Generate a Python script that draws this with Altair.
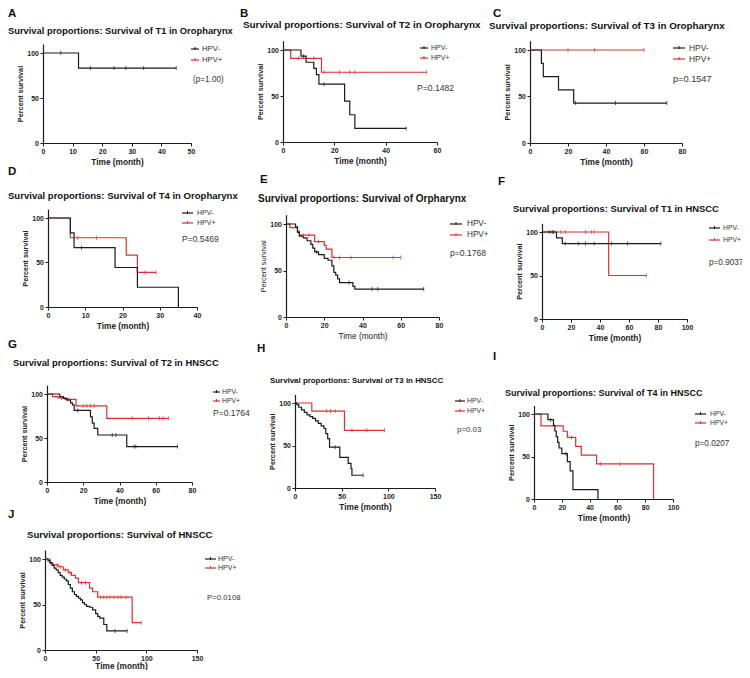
import altair as alt
import pandas as pd

FONT = "Liberation Sans, Arial, Helvetica, sans-serif"
OFF = 8
W, H = 734, 662
BLACK = "#1b1b1b"
RED = "#e0302f"
GREY = "#333333"

# ---------------- data ----------------
A_neg_t = [0, 12, 45]
A_neg_s = [100, 83.3, 83.3]
A_neg_c = [6, 16, 24, 28, 34, 45]
A_pos_t = []
A_pos_s = []
A_pos_c = []

B_neg_t = [0, 7, 9, 12, 13, 14, 24, 26, 28, 48]
B_neg_s = [100, 93.3, 86.7, 80, 73.3, 62.9, 44.4, 29.6, 14.8, 14.8]
B_neg_c = [8, 16, 48]
B_pos_t = [0, 3, 15, 56]
B_pos_s = [100, 90.9, 75.8, 75.8]
B_pos_c = [6, 12, 16, 22, 26, 28, 56]

C_neg_t = [0, 6, 7, 15, 23, 72]
C_neg_s = [100, 85.7, 71.4, 57.1, 42.9, 42.9]
C_neg_c = [24, 45, 72]
C_pos_t = [0, 60]
C_pos_s = [100, 100]
C_pos_c = [20, 34, 60]

D_neg_t = [0, 6, 7, 18, 24, 35]
D_neg_s = [100, 83.3, 66.7, 44.4, 22.2, 0]
D_neg_c = [9]
D_pos_t = [0, 6, 21, 24, 29]
D_pos_s = [100, 77.8, 58.3, 38.9, 38.9]
D_pos_c = [8, 13, 26, 29]

E_neg_t = [0, 5, 6, 7, 9, 11, 13, 14, 15, 17, 20, 22, 24, 25, 26, 27, 28, 35, 36, 72]
E_neg_s = [100, 97, 91, 87, 85, 82, 78, 74, 70, 67, 63, 61, 55, 48, 45, 41, 37, 33, 30, 30]
E_neg_c = [16, 33, 45, 48, 72]
E_pos_t = [0, 2, 6, 7, 15, 20, 21, 24, 60]
E_pos_s = [100, 96, 92, 88, 81, 77, 73, 64, 64]
E_pos_c = [9, 12, 17, 25, 28, 34, 56, 60]

F_neg_t = [0, 10, 14, 82]
F_neg_s = [100, 93.3, 86.7, 86.7]
F_neg_c = [5, 7, 8, 16, 25, 30, 36, 48, 59, 82]
F_pos_t = [0, 46, 72]
F_pos_s = [100, 50, 50]
F_pos_c = [13, 16, 30, 34, 36, 72]

G_neg_t = [0, 7, 9, 11, 13, 14, 15, 24, 25, 26, 28, 44, 72]
G_neg_s = [100, 97, 95, 93, 90, 87.7, 81.3, 74, 67, 61, 53.4, 40.3, 40.3]
G_neg_c = [17, 36, 38, 48, 49, 72]
G_pos_t = [0, 3, 6, 10, 16, 33, 67]
G_pos_s = [100, 97, 95.5, 94, 86.6, 72.4, 72.4]
G_pos_c = [8, 12, 20, 22, 24, 26, 47, 56, 62, 64, 67]

H_neg_t = [0, 2, 4, 7, 10, 13, 16, 19, 22, 25, 28, 31, 33, 35, 37, 48, 57, 60, 61, 73]
H_neg_s = [100, 98, 95, 92, 89, 86, 84, 82, 79, 76, 73, 70, 64, 58, 48, 36, 29, 23, 15, 15]
H_neg_c = [43, 73]
H_pos_t = [0, 18, 53, 96]
H_pos_s = [100, 90.5, 67.9, 67.9]
H_pos_c = [34, 38, 43, 61, 77, 96]

I_neg_t = [0, 10, 14, 15, 16, 17, 18, 20, 24, 26, 28, 46]
I_neg_s = [100, 93.3, 86.7, 80, 73.3, 66.7, 60, 53.3, 44, 33, 11, 0]
I_neg_c = [12, 23]
I_pos_t = [0, 5, 21, 24, 30, 34, 45, 86]
I_pos_s = [100, 86.1, 79.7, 72.4, 61.9, 51.6, 41.3, 0]
I_pos_c = [27, 48, 62]

J_neg_t = [0, 3, 5, 7, 9, 11, 13, 15, 17, 19, 21, 23, 25, 27, 29, 31, 33, 35, 37, 39,
           41, 44, 47, 50, 52, 54, 58, 61, 81]
J_neg_s = [100, 98, 96, 93, 90, 88, 85, 82, 80, 78, 76, 72, 68, 64, 61, 59, 57, 55, 52, 50,
           48, 47, 44, 40, 37, 35, 28, 21, 21]
J_neg_c = [69, 81]
J_pos_t = [0, 5, 8, 13, 18, 23, 26, 30, 33, 44, 47, 52, 86, 95]
J_pos_s = [100, 95, 93.5, 91.5, 88, 85, 82, 79, 74, 68, 64, 58, 30, 30]
J_pos_c = [12, 15, 20, 25, 36, 40, 55, 58, 61, 64, 68, 72, 75, 80, 95]

letters = ["A", "B", "C", "D", "E", "F", "G", "H", "I", "J"]
titles = [
    "Survival proportions: Survival of T1 in Oropharynx",
    "Survival proportions: Survival of T2 in Oropharynx",
    "Survival proportions: Survival of T3 in Oropharynx",
    "Survival proportions: Survival of T4 in Oropharynx",
    "Survival proportions: Survival of Orpharynx",
    "Survival proportions: Survival of T1 in HNSCC",
    "Survival proportions: Survival of T2 in  HNSCC",
    "Survival proportions: Survival of T3 in HNSCC",
    "Survival proportions: Survival of T4 in HNSCC",
    "Survival proportions: Survival of HNSCC",
]
pvalues = ["(p=1.00)", "P=0.1482", "p=0.1547", "P=0.5469", "p=0.1768",
           "p=0.9037", "P=0.1764", "p=0.03", "p=0.0207", "P=0.0108"]
group_labels = ["HPV-", "HPV+"]
xmaxes = [50, 60, 80, 40, 80, 100, 80, 150, 100, 150]
xticks = [[0, 10, 20, 30, 40, 50], [0, 20, 40, 60], [0, 20, 40, 60, 80],
          [0, 10, 20, 30, 40], [0, 20, 40, 60, 80], [0, 20, 40, 60, 80, 100],
          [0, 20, 40, 60, 80], [0, 50, 100, 150], [0, 20, 40, 60, 80, 100],
          [0, 50, 100, 150]]
yticks = [0, 50, 100]

curves = {
    "A": {"neg": (A_neg_t, A_neg_s, A_neg_c), "pos": (A_pos_t, A_pos_s, A_pos_c)},
    "B": {"neg": (B_neg_t, B_neg_s, B_neg_c), "pos": (B_pos_t, B_pos_s, B_pos_c)},
    "C": {"neg": (C_neg_t, C_neg_s, C_neg_c), "pos": (C_pos_t, C_pos_s, C_pos_c)},
    "D": {"neg": (D_neg_t, D_neg_s, D_neg_c), "pos": (D_pos_t, D_pos_s, D_pos_c)},
    "E": {"neg": (E_neg_t, E_neg_s, E_neg_c), "pos": (E_pos_t, E_pos_s, E_pos_c)},
    "F": {"neg": (F_neg_t, F_neg_s, F_neg_c), "pos": (F_pos_t, F_pos_s, F_pos_c)},
    "G": {"neg": (G_neg_t, G_neg_s, G_neg_c), "pos": (G_pos_t, G_pos_s, G_pos_c)},
    "H": {"neg": (H_neg_t, H_neg_s, H_neg_c), "pos": (H_pos_t, H_pos_s, H_pos_c)},
    "I": {"neg": (I_neg_t, I_neg_s, I_neg_c), "pos": (I_pos_t, I_pos_s, I_pos_c)},
    "J": {"neg": (J_neg_t, J_neg_s, J_neg_c), "pos": (J_pos_t, J_pos_s, J_pos_c)},
}

# ---------------- layout (page pixel positions) ----------------
# axes: x0/x1 = pixel of x-domain ends, y0 = pixel of 0 %, y100 = pixel of 100 %
# letter = (left, top)
layout = {
    "A": dict(x0=43, x1=191, y0=143, y100=53, letter=(8, 8), title=(8, 31, 9.35),
              leg=(191, 199, 49, 60, 202, 7.7), p=(193, 80, 8.2), bold=True, tpad=3),
    "B": dict(x0=283, x1=437, y0=142, y100=50, letter=(240, 8), title=(243, 25, 9.9),
              leg=(420, 428, 48, 58, 431, 7.0), p=(417, 88, 8.6), bold=True, tpad=3),
    "C": dict(x0=530, x1=682, y0=143, y100=50, letter=(493, 8), title=(489, 26, 9.8),
              leg=(673, 685, 48, 59, 689, 8.4), p=(673, 79, 9.2), bold=True, tpad=3),
    "D": dict(x0=48, x1=197, y0=307, y100=218, letter=(8, 166), title=(8, 196, 9.55),
              leg=(182, 193, 213, 223, 197, 7.0), p=(182, 239, 8.5), bold=True, tpad=3),
    "E": dict(x0=286, x1=439, y0=317, y100=224, letter=(260, 174), title=(258, 199, 10.0),
              leg=(450, 462, 224, 235, 467, 8.2), p=(450, 253, 8.6), bold=False, tpad=3),
    "F": dict(x0=542, x1=687, y0=319, y100=232, letter=(498, 176), title=(513, 209, 9.4),
              leg=(709, 720, 228, 240, 723, 6.8), p=(709, 263, 8.2), bold=True, tpad=3),
    "G": dict(x0=47, x1=192, y0=482, y100=394, letter=(8, 339), title=(13, 363, 9.4),
              leg=(213, 220, 392, 401, 222, 6.8), p=(213, 413, 8.5), bold=True, tpad=3),
    "H": dict(x0=295, x1=435, y0=488, y100=403, letter=(257, 343), title=(270, 381, 7.9),
              leg=(455, 465, 401, 411, 467, 6.8), p=(457, 430, 7.9), bold=True, tpad=3),
    "I": dict(x0=534, x1=673, y0=499, y100=414, letter=(493, 351), title=(505, 393, 9.0),
              leg=(695, 706, 414, 423, 710, 6.8), p=(695, 444, 8.2), bold=True, tpad=3),
    "J": dict(x0=45, x1=197, y0=650, y100=559, letter=(8, 509), title=(27, 535, 9.6),
              leg=(205, 216, 559, 568, 218, 7.0), p=(207, 598, 7.8), bold=True, tpad=0),
}


def step_at(ts, ss, t):
    v = ss[0]
    for ti, si in zip(ts, ss):
        if ti <= t:
            v = si
    return v


def one_row(text):
    return pd.DataFrame({"label": [text]})


layers = []
for i, key in enumerate(letters):
    L = layout[key]
    x0, x1 = L["x0"] - OFF, L["x1"] - OFF
    y0, y100 = L["y0"] - OFF, L["y100"] - OFF
    ytop = y0 - (y0 - y100) * 1.1
    tw = "bold" if L["bold"] else "normal"
    xs = alt.Scale(domain=[0, xmaxes[i]], range=[x0, x1], nice=False, zero=False)
    ys = alt.Scale(domain=[0, 110], range=[y0, ytop], nice=False, zero=False)
    common = dict(grid=False, domainColor=BLACK, domainWidth=1.2, tickColor=BLACK,
                  tickWidth=1, tickSize=3, labelFont=FONT, labelFontSize=7,
                  labelFontWeight="bold", labelColor="#222222", labelFlush=False,
                  labelOverlap=False, titleFont=FONT, titleColor="#222222",
                  titleFontWeight=tw)
    xaxis = alt.Axis(orient="bottom", offset=y0 - H, values=xticks[i], title="Time (month)",
                     labelPadding=1.5, titleFontSize=8.3, titlePadding=L["tpad"], format="d",
                     **common)
    yaxis = alt.Axis(orient="left", offset=-x0, values=yticks, title="Percent survival",
                     labelPadding=1.5, titleFontSize=7.3, titlePadding=2, format="d",
                     **common)
    X = alt.X("time:Q", scale=xs, axis=xaxis)
    Y = alt.Y("surv:Q", scale=ys, axis=yaxis)

    sub = []
    for grp, color in (("pos", RED), ("neg", BLACK)):
        t, s, c = curves[key][grp]
        if not t:
            continue
        sub.append(
            alt.Chart(pd.DataFrame({"time": t, "surv": s}))
            .mark_line(interpolate="step-after", color=color, strokeWidth=1.2)
            .encode(x=X, y=Y)
        )
    for grp, color in (("pos", RED), ("neg", BLACK)):
        t, s, c = curves[key][grp]
        if not c:
            continue
        sub.append(
            alt.Chart(pd.DataFrame({"time": c, "surv": [step_at(t, s, ci) for ci in c]}))
            .mark_tick(orient="vertical", color=color, size=4, thickness=1)
            .encode(x=X, y=Y)
        )
    layers.append(alt.layer(*sub))

texts = []
for i, key in enumerate(letters):
    L = layout[key]
    lx, ly = L["letter"]
    texts.append(
        alt.Chart(one_row(key)).mark_text(align="left", baseline="top", font=FONT,
                                          fontSize=11.5, fontWeight="bold", color="#111111")
        .encode(x=alt.value(lx - OFF), y=alt.value(ly - OFF), text="label:N")
    )
    tx, ty, tsz = L["title"]
    texts.append(
        alt.Chart(one_row(titles[i])).mark_text(align="left", baseline="middle", font=FONT,
                                                fontSize=tsz, fontWeight="bold", color="#111111")
        .encode(x=alt.value(tx - OFF), y=alt.value(ty - OFF), text="label:N")
    )
    px, py, psz = L["p"]
    texts.append(
        alt.Chart(one_row(pvalues[i])).mark_text(align="left", baseline="middle", font=FONT,
                                                 fontSize=psz, color=GREY)
        .encode(x=alt.value(px - OFF), y=alt.value(py - OFF), text="label:N")
    )
    sx0, sx1, ly1, ly2, ltx, lsz = L["leg"]
    for lab, yy, col in ((group_labels[0], ly1, BLACK), (group_labels[1], ly2, RED)):
        texts.append(
            alt.Chart(one_row(lab)).mark_rule(color=col, strokeWidth=1.2)
            .encode(x=alt.value(sx0 - OFF), x2=alt.value(sx1 - OFF), y=alt.value(yy - OFF))
        )
        mid = (sx0 + sx1) / 2 - OFF
        texts.append(
            alt.Chart(one_row(lab)).mark_rule(color=col, strokeWidth=1)
            .encode(x=alt.value(mid), y=alt.value(yy - OFF - 2), y2=alt.value(yy - OFF + 1))
        )
        texts.append(
            alt.Chart(one_row(lab)).mark_text(align="left", baseline="middle", font=FONT,
                                              fontSize=lsz, color=GREY)
            .encode(x=alt.value(ltx - OFF), y=alt.value(yy - OFF), text="label:N")
        )

chart = (
    alt.layer(*layers, *texts)
    .resolve_scale(x="independent", y="independent")
    .properties(width=W, height=H, autosize=alt.AutoSizeParams(type="none"), padding=0)
    .configure_view(strokeWidth=0)
)

chart.save("out.html", embed_options={"renderer": "svg", "actions": False})
